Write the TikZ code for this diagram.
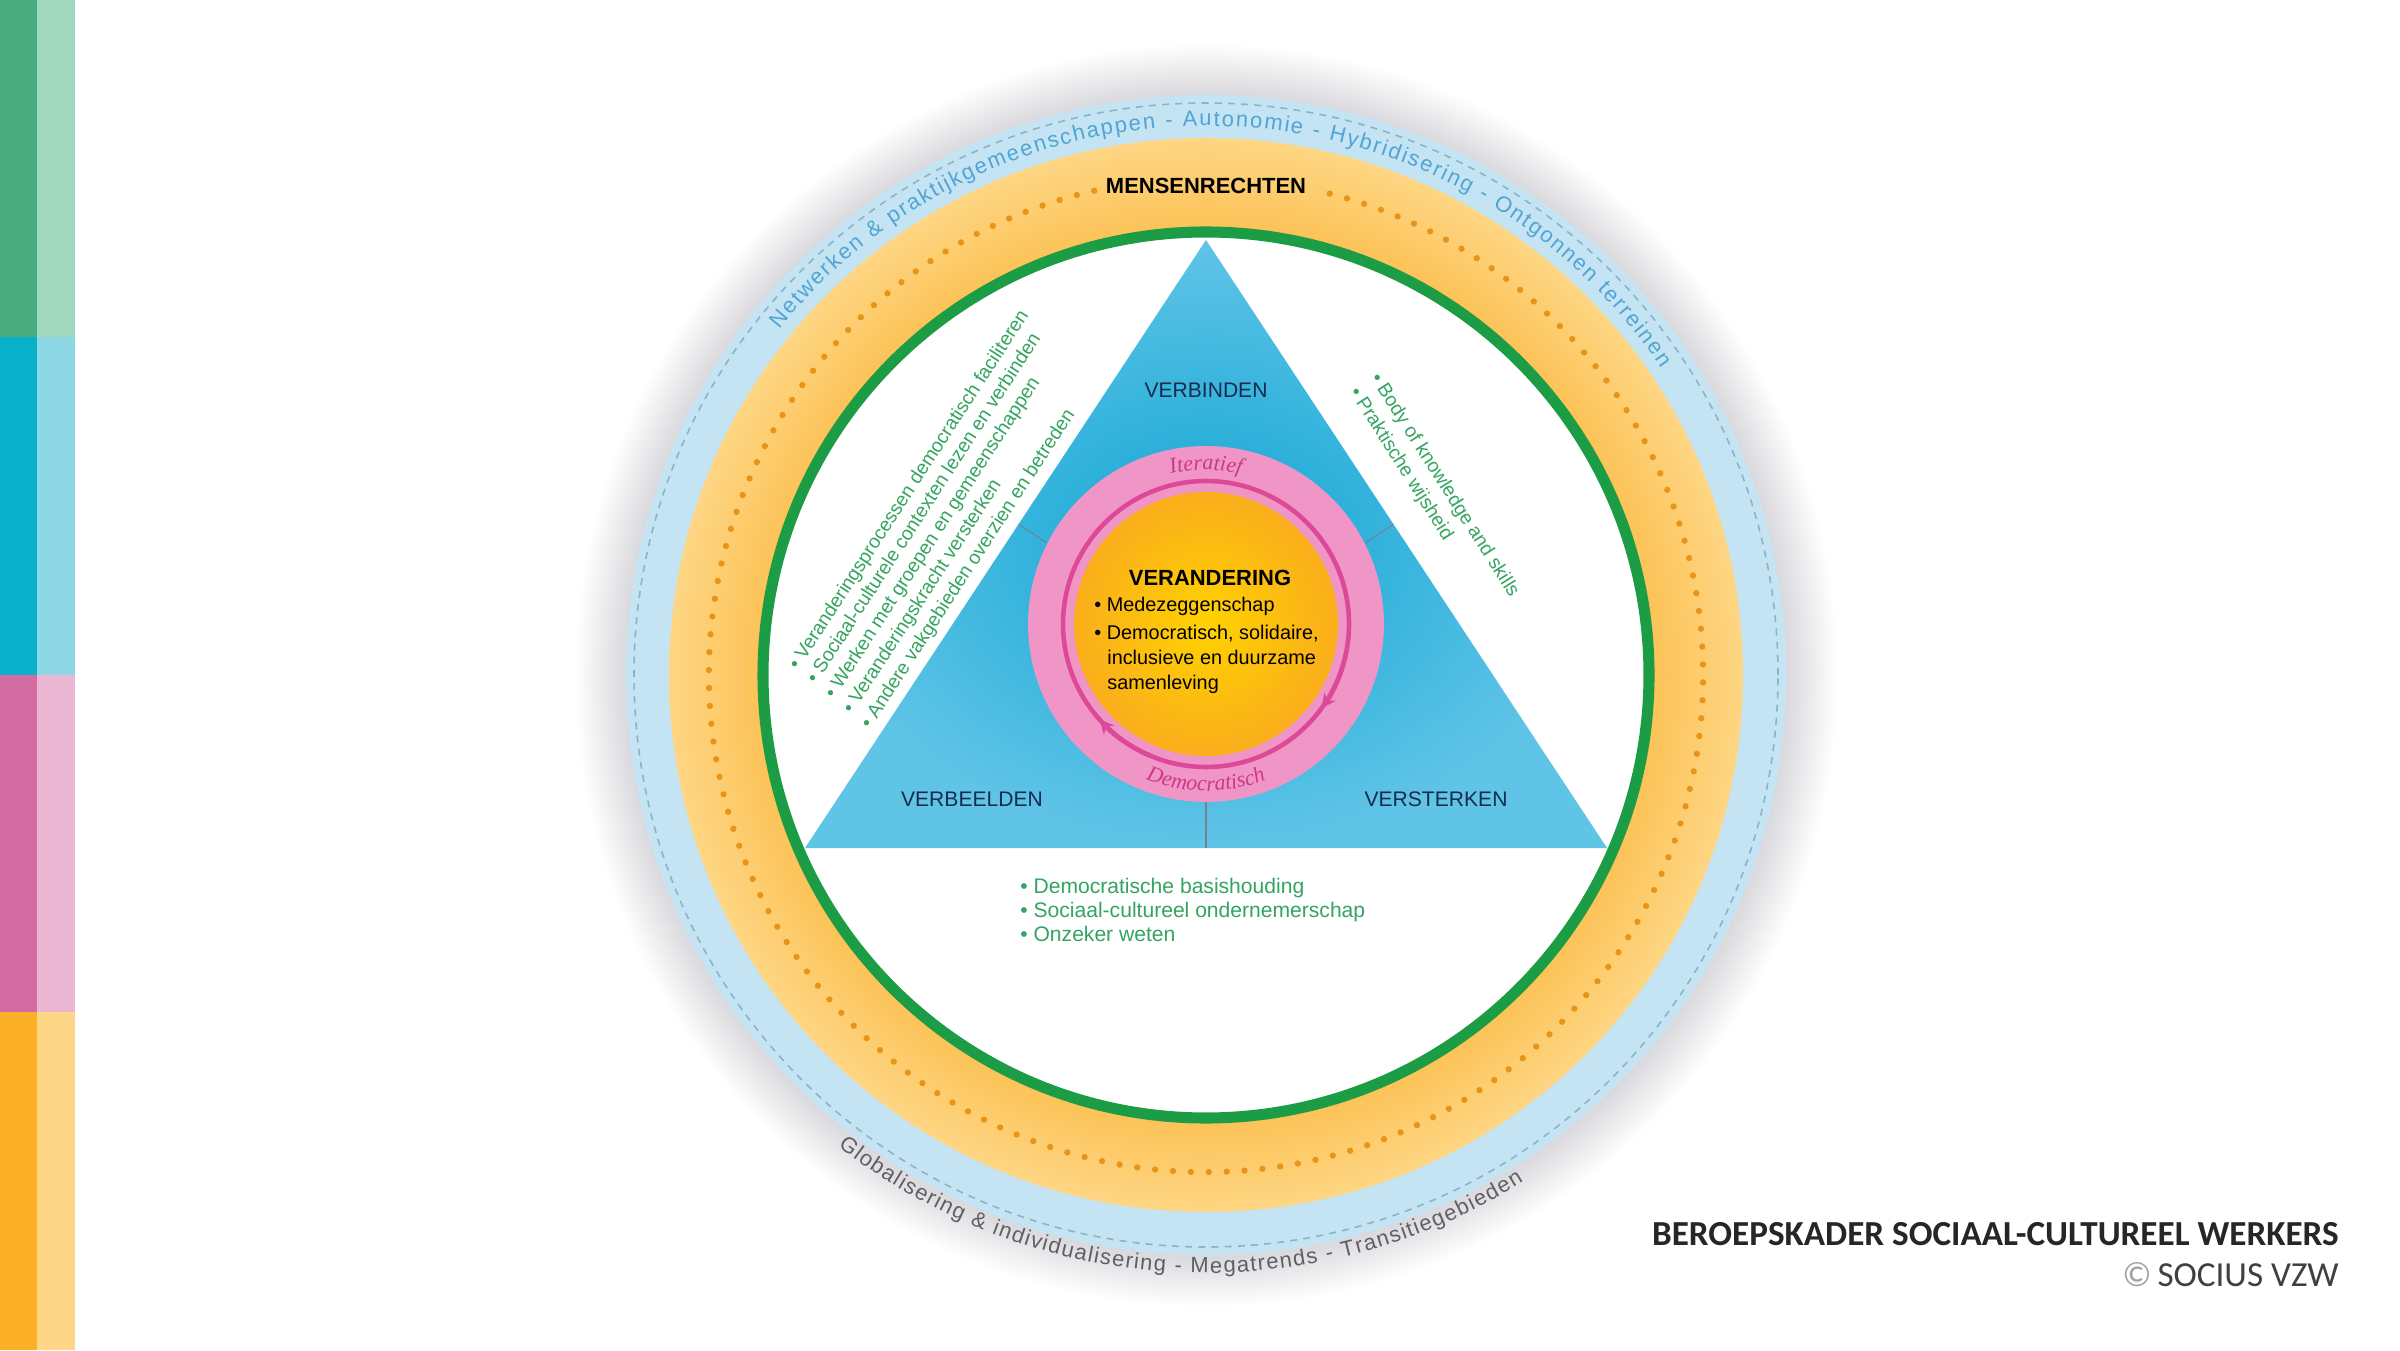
\documentclass[tikz,border=0pt]{standalone}
\usepackage{fontspec}
\setmainfont{Liberation Sans}
\newfontfamily\cursief{Liberation Serif}
\newfontfamily\voetfont{Carlito}
\usetikzlibrary{calc,arrows.meta,decorations.text}
\definecolor{balkgroen}{RGB}{72,172,128}
\definecolor{balkgroenlicht}{RGB}{163,216,192}
\definecolor{balkblauw}{RGB}{8,176,202}
\definecolor{balkblauwlicht}{RGB}{140,214,230}
\definecolor{balkroze}{RGB}{210,108,160}
\definecolor{balkrozelicht}{RGB}{234,182,210}
\definecolor{balkoranje}{RGB}{252,176,40}
\definecolor{balkoranjelicht}{RGB}{253,214,135}
\definecolor{schaduwgrijs}{RGB}{218,218,222}
\definecolor{ringblauw}{RGB}{196,228,243}
\definecolor{streepblauw}{RGB}{140,178,200}
\definecolor{tekstblauw}{RGB}{80,165,212}
\definecolor{oranjedonker}{RGB}{252,195,88}
\definecolor{oranjelicht}{RGB}{254,214,132}
\definecolor{stippel}{RGB}{232,148,24}
\definecolor{cirkelgroen}{RGB}{28,156,68}
\definecolor{driehoekdonker}{RGB}{18,166,212}
\definecolor{driehoeklicht}{RGB}{96,196,231}
\definecolor{roze}{RGB}{239,150,199}
\definecolor{lusroze}{RGB}{222,72,152}
\definecolor{rozetekst}{RGB}{205,55,135}
\definecolor{geel}{RGB}{255,210,0}
\definecolor{geeloranje}{RGB}{250,174,28}
\definecolor{donkerblauw}{RGB}{22,44,78}
\definecolor{lijstgroen}{RGB}{52,164,96}
\definecolor{grijstekst}{RGB}{95,95,100}
\definecolor{logogrijs}{RGB}{160,160,160}
\pgfdeclareradialshading{schaduwring}{\pgfpoint{0bp}{0bp}}{color(0bp)=(schaduwgrijs); color(23bp)=(schaduwgrijs); color(25bp)=(white); color(50bp)=(white)}
\pgfdeclareradialshading{oranjering}{\pgfpoint{0bp}{0bp}}{color(0bp)=(oranjedonker); color(20.9bp)=(oranjedonker); color(25bp)=(oranjelicht); color(50bp)=(oranjelicht)}

\begin{document}
\begin{tikzpicture}[x=0.02cm,y=0.02cm]
\tikzstyle{every node}+=[inner sep=0pt]
\tikzstyle{groenlijst}=[text=lijstgroen, font=\fontsize{11}{13}\selectfont, anchor=base west]
\tikzstyle{onderlijst}=[text=lijstgroen, font=\fontsize{12}{14}\selectfont, anchor=base west]
\tikzstyle{kernlijst}=[text=black, font=\fontsize{11.3}{13}\selectfont, anchor=base west]
\tikzstyle{hoektekst}=[text=donkerblauw, font=\fontsize{12}{14}\selectfont]
\tikzstyle{scheidslijn}=[donkerblauw!60, line width=0.6pt]
\tikzstyle{lus}=[lusroze, line width=2.6pt]
\tikzstyle{voettekst}=[font=\voetfont\fontsize{20}{24}\selectfont, anchor=base east]
\useasboundingbox (0,0) rectangle (2400,1350);
\fill [white] (0,0) rectangle (2400,1350);
\fill [balkgroen] (0,1013) rectangle (37,1350);
\fill [balkgroenlicht] (37,1013) rectangle (75,1350);
\fill [balkblauw] (0,675) rectangle (37,1013);
\fill [balkblauwlicht] (37,675) rectangle (75,1013);
\fill [balkroze] (0,338) rectangle (37,675);
\fill [balkrozelicht] (37,338) rectangle (75,675);
\fill [balkoranje] (0,0) rectangle (37,338);
\fill [balkoranjelicht] (37,0) rectangle (75,338);
\coordinate (midden) at (1206,675);
\shade [shading=schaduwring] (midden) circle (632);
\fill [ringblauw] (midden) circle (580);
\draw [streepblauw, line width=0.9pt, dash pattern=on 4pt off 3.5pt] (midden) circle (572);
\shade [shading=oranjering] (midden) circle (537);
\draw [stippel, line width=3.6pt, line cap=round, dash pattern=on 0pt off 10.2pt] (midden) ++(103:497) arc (103:437:497);
\draw [cirkelgroen, line width=6.3pt, fill=white] (midden) circle (443);
\path [decorate, decoration={text along path, text align={fit to path}, text color=tekstblauw,
  text={|\fontsize{12.5}{15}\selectfont|Netwerken {\&} praktijkgemeenschappen - Autonomie - Hybridisering - Ontgonnen terreinen}}]
  (midden) ++(141:549) arc (141:34:549);
\path [decorate, decoration={text along path, text align={fit to path}, text color=grijstekst,
  text={|\fontsize{12.5}{15}\selectfont|Globalisering {\&} individualisering - Megatrends - Transitiegebieden}}]
  (midden) ++(232:598) arc (232:302:598);
\node [font=\bfseries\fontsize{12.5}{14}\selectfont] (mensenrechten) at (1206,1164) {MENSENRECHTEN};
\coordinate (apex) at (1206,1110);
\coordinate (bl) at (805,502);
\coordinate (br) at (1607,502);
\shade [inner color=driehoekdonker, outer color=driehoeklicht] (apex) -- (bl) -- (br) -- cycle;
\node [circle, fill=roze, minimum size=7.12cm] (ring) at (1206,726) {};
\node [circle, shade, inner color=geel, outer color=geeloranje, minimum size=5.28cm] (kern) at (1206,726) {};
\draw [lus] (ring.center) circle (143);
\draw [lus, -{Stealth[length=8pt,width=8pt]}] (ring.center) ++(-12:143) arc (-12:-36:143);
\draw [lus, -{Stealth[length=8pt,width=8pt]}] (ring.center) ++(247:143) arc (247:222:143);
\path [decorate, decoration={text along path, text align=center, text color=rozetekst,
  text={|\cursief\itshape\fontsize{12.5}{14}\selectfont|Iteratief}}]
  (ring.center) ++(150:154) arc (150:30:154);
\path [decorate, decoration={text along path, text align=center, text color=rozetekst,
  text={|\cursief\itshape\fontsize{12.5}{14}\selectfont|Democratisch}}]
  (ring.center) ++(210:167) arc (210:330:167);
\draw [scheidslijn] (ring.153) -- ($(bl)!(ring.153)!(apex)$);
\draw [scheidslijn] (ring.27) -- ($(br)!(ring.27)!(apex)$);
\draw [scheidslijn] (ring.south) -- (ring.south |- bl);
\node [hoektekst] (verbinden) at (1206,960) {VERBINDEN};
\node [hoektekst] (verbeelden) at (972,551) {VERBEELDEN};
\node [hoektekst] (versterken) at (1436,551) {VERSTERKEN};
\node [font=\bfseries\fontsize{12.5}{14}\selectfont] (verandering) at (1210,772) {VERANDERING};
\node [kernlijst] (doel1) at (1094,738) {\textbullet\ Medezeggenschap};
\node [kernlijst] (doel2) at (1094,710) {\textbullet\ Democratisch, solidaire,};
\node [kernlijst] (doel3) at (1107,685) {inclusieve en duurzame};
\node [kernlijst] (doel4) at (1107,660) {samenleving};
\node [groenlijst, rotate=57] (comp1) at (798,679) {\textbullet\ Veranderingsprocessen democratisch faciliteren};
\node [groenlijst, rotate=57] (comp2) at (816,665) {\textbullet\ Sociaal-culturele contexten lezen en verbinden};
\node [groenlijst, rotate=57] (comp3) at (834,650) {\textbullet\ Werken met groepen en gemeenschappen};
\node [groenlijst, rotate=57] (comp4) at (852,635) {\textbullet\ Veranderingskracht versterken};
\node [groenlijst, rotate=57] (comp5) at (870,620) {\textbullet\ Andere vakgebieden overzien en betreden};
\node [groenlijst, rotate=-57.5] (kennis1) at (1370,972) {\textbullet\ Body of knowledge and skills};
\node [groenlijst, rotate=-57.5] (kennis2) at (1349,958) {\textbullet\ Praktische wijsheid};
\node [onderlijst] (houding1) at (1020,457) {\textbullet\ Democratische basishouding};
\node [onderlijst] (houding2) at (1020,433) {\textbullet\ Sociaal-cultureel ondernemerschap};
\node [onderlijst] (houding3) at (1020,409) {\textbullet\ Onzeker weten};
\node [voettekst, text=black!85] (titel) at (2339,105) {\bfseries BEROEPSKADER SOCIAAL-CULTUREEL WERKERS};
\node [voettekst, text=black!75] (socius) at (2339,64) {{\color{logogrijs}©}\,SOCIUS VZW};
\end{tikzpicture}
\end{document}
